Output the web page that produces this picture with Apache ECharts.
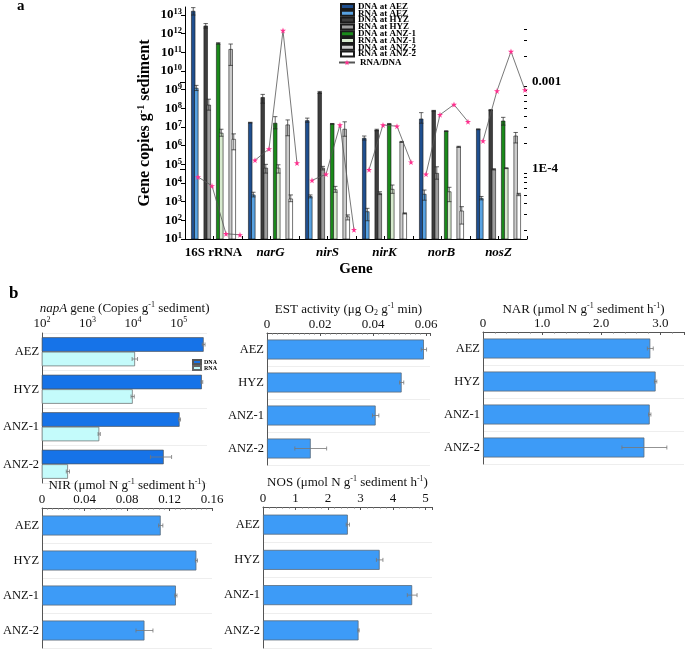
<!DOCTYPE html>
<html>
<head>
<meta charset="utf-8">
<script src="https://cdn.jsdelivr.net/npm/echarts@6/dist/echarts.min.js"></script>
<style>
html, body { margin: 0; padding: 0; background: #fff; }
#chart { width: 685px; height: 649px; }
</style>
</head>
<body>
<div id="chart"></div>
<script>
const genes = ['16S rRNA', 'narG', 'nirS', 'nirK', 'norB', 'nosZ'];
const sites = ['AEZ', 'HYZ', 'ANZ-1', 'ANZ-2'];

// gene copies per g sediment (mean, upper and lower error), one value per gene
const dnaAEZ    = [1.6e13, 1.7e7, 2.2e7, 2.5e6, 2.7e7, 7.6e6];
const dnaAEZHi  = [2.5e13, 1.8e7, 3.0e7, 3.3e6, 5.9e7, 7.9e6];
const dnaAEZLo  = [1.0e13, 1.66e7, 1.8e7, 2.0e6, 1.6e7, 7.2e6];
const rnaAEZ    = [1.2e9, 2.3e3, 1.9e3, 2.9e2, 2.5e3, 1.5e3];
const rnaAEZHi  = [1.7e9, 3.2e3, 2.3e3, 4.4e2, 4.2e3, 1.9e3];
const rnaAEZLo  = [9e8, 1.8e3, 1.6e3, 95, 1.2e3, 1.25e3];
const dnaHYZ    = [2.6e12, 3.8e8, 7.2e8, 6.9e6, 7.4e7, 8.1e7];
const dnaHYZHi  = [3.5e12, 5.6e8, 8.1e8, 7.6e6, 7.8e7, 8.7e7];
const dnaHYZLo  = [2.0e12, 1.9e8, 6.3e8, 6.3e6, 7.1e7, 7.6e7];
const rnaHYZ    = [1.5e8, 6.3e4, 6.3e4, 2.8e3, 3.3e4, 5.4e4];
const rnaHYZHi  = [3.1e8, 1.0e5, 7.8e4, 3.4e3, 7.4e4, 5.8e4];
const rnaHYZLo  = [8e7, 3.4e4, 5e4, 2.4e3, 1.6e4, 5e4];
const dnaANZ1   = [3.0e11, 1.6e7, 1.5e7, 1.45e7, 6.0e6, 2.1e7];
const dnaANZ1Hi = [3.3e11, 3.6e7, 1.55e7, 1.55e7, 6.3e6, 3.3e7];
const dnaANZ1Lo = [2.75e11, 8e6, 1.4e7, 1.35e7, 5.75e6, 1.26e7];
const rnaANZ1   = [4.7e6, 6.3e4, 4.4e3, 4.6e3, 3.4e3, 6.2e4];
const rnaANZ1Hi = [7.6e6, 9.5e4, 6.6e3, 7.8e3, 5.9e3, 6.5e4];
const rnaANZ1Lo = [3.2e6, 3.4e4, 3.2e3, 2.8e3, 1e3, 5.9e4];
const dnaANZ2   = [1.45e11, 1.3e7, 7.6e6, 1.6e6, 8.7e5, 3.3e6];
const dnaANZ2Hi = [2.8e11, 2.4e7, 1.9e7, 1.7e6, 9.3e5, 5.1e6];
const dnaANZ2Lo = [2e10, 3.4e6, 3.2e6, 1.5e6, 8.1e5, 1.4e6];
const rnaANZ2   = [2.2e6, 1.4e3, 155, 235, 316, 2.5e3];
const rnaANZ2Hi = [4.3e6, 2.3e3, 195, 250, 540, 2.8e3];
const rnaANZ2Lo = [6e5, 1e3, 105, 220, 63, 2.1e3];

// RNA/DNA ratio, one value per gene
const ratioAEZ  = [8.1e-5, 1.26e-4, 7.4e-5, 9.8e-5, 8.7e-5, 2.1e-4];
const ratioHYZ  = [6.4e-5, 1.7e-4, 8.7e-5, 3.2e-4, 4.2e-4, 7.9e-4];
const ratioANZ1 = [1.8e-5, 3.9e-3, 3.2e-4, 3.1e-4, 5.5e-4, 2.24e-3];
const ratioANZ2 = [1.75e-5, 1.17e-4, 2.0e-5, 1.2e-4, 3.5e-4, 8.1e-4];

// panel b, one value per site
const napaDNA    = [3.55e5, 3.24e5, 1.05e5, 4.7e4];
const napaDNAErr = [2.5e4, 1.5e4, 5e3, 2.3e4];
const napaRNA    = [1.1e4, 9.8e3, 1.8e3, 3.7e2];
const napaRNAErr = [1.5e3, 8e2, 1e2, 30];
const est    = [0.0592, 0.0508, 0.0410, 0.0165];
const estErr = [0.001, 0.0008, 0.0012, 0.006];
const nar    = [2.83, 2.92, 2.82, 2.73];
const narErr = [0.05, 0.02, 0.02, 0.38];
const nir    = [0.1117, 0.1453, 0.126, 0.0964];
const nirErr = [0.002, 0.001, 0.001, 0.008];
const nos    = [2.61, 3.59, 4.59, 2.94];
const nosErr = [0.05, 0.1, 0.15, 0.02];

// tick values
const copyTicks = [1e1, 1e2, 1e3, 1e4, 1e5, 1e6, 1e7, 1e8, 1e9, 1e10, 1e11, 1e12, 1e13];
const ratioTicks = [1e-4, 1e-3];
const ratioMinor = [2e-5, 3e-5, 4e-5, 5e-5, 6e-5, 7e-5, 8e-5, 9e-5,
  2e-4, 3e-4, 4e-4, 5e-4, 6e-4, 7e-4, 8e-4, 9e-4, 2e-3, 3e-3, 4e-3];
const napaTicks = [1e2, 1e3, 1e4, 1e5];
const napaMinor = [2e2, 3e2, 4e2, 5e2, 6e2, 7e2, 8e2, 9e2, 2e3, 3e3, 4e3, 5e3, 6e3, 7e3, 8e3, 9e3,
  2e4, 3e4, 4e4, 5e4, 6e4, 7e4, 8e4, 9e4, 2e5, 3e5, 4e5];

const serif = 'Liberation Serif';
const chart = echarts.init(document.getElementById('chart'));

const richBold = {
  b: { fontFamily: serif, fontWeight: 'bold', fontSize: 13, lineHeight: 15, verticalAlign: 'middle', color: '#000' },
  bi: { fontFamily: serif, fontWeight: 'bold', fontStyle: 'italic', fontSize: 13, lineHeight: 15, verticalAlign: 'middle', color: '#000' },
  s: { fontFamily: serif, fontWeight: 'bold', fontSize: 8.5, lineHeight: 8, verticalAlign: 'top', color: '#000' }
};
const richName = {
  a: { fontFamily: serif, fontWeight: 'bold', fontSize: 16, lineHeight: 18, verticalAlign: 'middle', color: '#000' },
  s: { fontFamily: serif, fontWeight: 'bold', fontSize: 10, lineHeight: 9, verticalAlign: 'top', color: '#000' }
};
const richReg = {
  n: { fontFamily: serif, fontSize: 13, lineHeight: 15, verticalAlign: 'middle', color: '#111' },
  i: { fontFamily: serif, fontStyle: 'italic', fontSize: 13, lineHeight: 15, verticalAlign: 'middle', color: '#111' },
  s: { fontFamily: serif, fontSize: 8, lineHeight: 8, verticalAlign: 'top', color: '#111' },
  sub: { fontFamily: serif, fontSize: 8, lineHeight: 8, verticalAlign: 'bottom', color: '#111' }
};

// ---- panel a bars ----
const barDefs = [
  ['DNA at AEZ', '#1f4f8f', dnaAEZ, dnaAEZHi, dnaAEZLo, 0, false],
  ['RNA at AEZ', '#58a2e2', rnaAEZ, rnaAEZHi, rnaAEZLo, 0, true],
  ['DNA at HYZ', '#3d3d3d', dnaHYZ, dnaHYZHi, dnaHYZLo, 1, false],
  ['RNA at HYZ', '#9d9d9d', rnaHYZ, rnaHYZHi, rnaHYZLo, 1, true],
  ['DNA at ANZ-1', '#1a8a1a', dnaANZ1, dnaANZ1Hi, dnaANZ1Lo, 2, false],
  ['RNA at ANZ-1', '#d7eace', rnaANZ1, rnaANZ1Hi, rnaANZ1Lo, 2, true],
  ['DNA at ANZ-2', '#cdcdcd', dnaANZ2, dnaANZ2Hi, dnaANZ2Lo, 3, false],
  ['RNA at ANZ-2', '#ffffff', rnaANZ2, rnaANZ2Hi, rnaANZ2Lo, 3, true]
];

function geneBars(def) {
  const [name, color, vals, hi, lo, s, isRna] = def;
  return {
    type: 'custom', name: name, xAxisIndex: 1, yAxisIndex: 0,
    itemStyle: { color: color, borderColor: '#1a1a1a', borderWidth: 0.6 },
    data: vals.map((v, g) => [g, v, hi[g], lo[g]]),
    encode: { x: 0, y: 1 },
    renderItem: function (params, api) {
      const cx = api.value(0) + 0.5 + (s - 1.5) * 0.219 + (isRna ? 0.027 : -0.027);
      const top = api.coord([cx, api.value(1)]);
      const hp = api.coord([cx, api.value(2)]);
      const lp = api.coord([cx, api.value(3)]);
      const base = params.coordSys.y + params.coordSys.height;
      const w = 3.6;
      const ls = { stroke: '#222', lineWidth: 0.7 };
      return {
        type: 'group', children: [
          { type: 'rect', shape: { x: top[0] - w / 2, y: top[1], width: w, height: base - top[1] },
            style: { fill: color, stroke: '#1a1a1a', lineWidth: 0.6 } },
          { type: 'line', shape: { x1: top[0], y1: hp[1], x2: top[0], y2: lp[1] }, style: ls },
          { type: 'line', shape: { x1: top[0] - 2.2, y1: hp[1], x2: top[0] + 2.2, y2: hp[1] }, style: ls },
          { type: 'line', shape: { x1: top[0] - 2.2, y1: lp[1], x2: top[0] + 2.2, y2: lp[1] }, style: ls }
        ]
      };
    }
  };
}

const star = 'path://M50,0 L61,35 L98,35 L68,57 L79,91 L50,70 L21,91 L32,57 L2,35 L39,35 Z';
const ratios = [ratioAEZ, ratioHYZ, ratioANZ1, ratioANZ2];
const ratioSeries = genes.map((gname, g) => ({
  type: 'line', name: 'RNA/DNA', xAxisIndex: 2, yAxisIndex: 1,
  data: sites.map((_, s) => [g + 0.228 + 0.2456 * s, ratios[s][g]]),
  symbol: star, symbolSize: 6,
  itemStyle: { color: '#ff2f8e' },
  lineStyle: { color: '#555', width: 0.8 },
  z: 5
}));

// ---- panel b helpers ----
function hErr(xi, yi, vals, errs, dy) {
  return {
    type: 'custom', xAxisIndex: xi, yAxisIndex: yi, silent: true, z: 4,
    data: vals.map((v, i) => [v - errs[i], v + errs[i], i]),
    encode: { x: [0, 1], y: 2 },
    renderItem: function (params, api) {
      const p1 = api.coord([api.value(0), api.value(2)]);
      const p2 = api.coord([api.value(1), api.value(2)]);
      const y = p1[1] + dy;
      const ls = { stroke: '#777', lineWidth: 0.8 };
      return {
        type: 'group', children: [
          { type: 'line', shape: { x1: p1[0], y1: y, x2: p2[0], y2: y }, style: ls },
          { type: 'line', shape: { x1: p1[0], y1: y - 2, x2: p1[0], y2: y + 2 }, style: ls },
          { type: 'line', shape: { x1: p2[0], y1: y - 2, x2: p2[0], y2: y + 2 }, style: ls }
        ]
      };
    }
  };
}

function catAxis(gi) {
  return {
    gridIndex: gi, type: 'category', data: sites, inverse: true,
    axisLine: { lineStyle: { color: '#555', width: 1 } },
    axisTick: { inside: true, length: 2, lineStyle: { color: '#555' } },
    axisLabel: { fontFamily: serif, fontSize: 12.5, color: '#111', margin: 3 },
    splitLine: { show: true, lineStyle: { color: '#e6e6e6', width: 0.7 } }
  };
}

function valAxis(gi, max, interval, minor, name, nameGap, labelFmt, showMax) {
  return {
    gridIndex: gi, type: 'value', position: 'top', min: 0, max: max, interval: interval,
    name: name, nameLocation: 'middle', nameGap: nameGap,
    nameTextStyle: { rich: richReg },
    axisLine: { show: true, lineStyle: { color: '#555', width: 1 } },
    axisTick: { show: true, inside: true, length: 3, lineStyle: { color: '#555' } },
    minorTick: { show: true, splitNumber: minor, length: 1.5, lineStyle: { color: '#777' } },
    axisLabel: { fontFamily: serif, fontSize: 13, color: '#111', margin: 2, formatter: labelFmt,
      showMaxLabel: showMax },
    splitLine: { show: false }
  };
}

const blueBar = { color: '#3d9bf7', borderColor: '#5b6b7b', borderWidth: 0.8 };

const option = {
  animation: false,
  backgroundColor: '#fff',
  graphic: [
    { type: 'text', left: 17, top: -1, style: { text: 'a', font: 'bold 15px "Liberation Serif"', fill: '#000' } },
    { type: 'text', left: 9, top: 285, style: { text: 'b', font: 'bold 17px "Liberation Serif"', fill: '#000' } }
  ],
  legend: [
    {
      data: barDefs.map(d => d[0]), orient: 'vertical', left: 335, top: -3,
      itemWidth: 13, itemHeight: 5, itemGap: -2.2, icon: 'rect', selectedMode: false,
      textStyle: { fontFamily: serif, fontWeight: 'bold', fontSize: 9, lineHeight: 7, color: '#000', padding: [0, 0, 0, -1] }
    },
    {
      data: ['RNA/DNA'], orient: 'vertical', left: 333, top: 53,
      itemWidth: 16, itemHeight: 7, selectedMode: false,
      textStyle: { fontFamily: serif, fontWeight: 'bold', fontSize: 9, color: '#000' }
    },
    {
      data: ['DNA', 'RNA'], orient: 'vertical', left: 187, top: 354,
      itemWidth: 8, itemHeight: 4, itemGap: 0, icon: 'rect', selectedMode: false,
      textStyle: { fontFamily: serif, fontWeight: 'bold', fontSize: 6, lineHeight: 5, color: '#000', padding: [0, 0, 0, -2] }
    }
  ],
  grid: [
    { left: 185, right: 158, top: 7, bottom: 410 },
    { left: 185, right: 158, top: 29, bottom: 410 },
    { left: 37, top: 333, width: 170, height: 150 },
    { left: 267, top: 333, width: 163, height: 132 },
    { left: 483, top: 332, width: 201, height: 132 },
    { left: 38, top: 508, width: 174, height: 140 },
    { left: 263, top: 507, width: 169, height: 141 }
  ],
  xAxis: [
    {
      gridIndex: 0, type: 'category', data: genes, position: 'bottom',
      axisLine: { lineStyle: { color: '#000', width: 1 } },
      axisTick: { show: false },
      axisLabel: { interval: 0, margin: 6, rich: richBold,
        formatter: (v, i) => i === 0 ? '{b|' + v + '}' : '{bi|' + v + '}' },
      name: 'Gene', nameLocation: 'middle', nameGap: 23,
      nameTextStyle: { fontFamily: serif, fontWeight: 'bold', fontSize: 15, color: '#000' }
    },
    {
      gridIndex: 0, type: 'value', position: 'bottom', min: 0, max: 6, interval: 0.5,
      axisLine: { show: false }, axisLabel: { show: false }, splitLine: { show: false },
      axisTick: { show: true, inside: true, length: 3, lineStyle: { color: '#000' } }
    },
    { gridIndex: 1, type: 'value', min: 0, max: 6, show: false },
    {
      gridIndex: 2, type: 'log', position: 'top', min: 100, max: 4.2e5,
      name: '{i|napA}{n| gene (Copies g}{s|-1}{n| sediment)}', nameLocation: 'middle', nameGap: 14,
      nameTextStyle: { rich: richReg },
      axisLine: { lineStyle: { color: '#555', width: 1 } },
      axisTick: { inside: true, length: 3, customValues: napaTicks, lineStyle: { color: '#555' } },
      axisLabel: { customValues: napaTicks, margin: 2, rich: richReg,
        formatter: v => '{n|10}{s|' + Math.round(Math.log10(v)) + '}' },
      splitLine: { show: false }
    },
    valAxis(3, 0.0615, 0.02, 10, '{n|EST activity (μg O}{sub|2}{n| g}{s|-1}{n| min)}', 14,
      v => v === 0 ? '0' : v.toFixed(2), false),
    valAxis(4, 3.4, 1, 5, '{n|NAR (μmol N g}{s|-1}{n| sediment h}{s|-1}{n|)}', 14,
      v => v === 0 ? '0' : v.toFixed(1), false),
    valAxis(5, 0.16, 0.04, 8, '{n|NIR (μmol N g}{s|-1}{n| sediment h}{s|-1}{n|)}', 13,
      v => v === 0 ? '0' : v.toFixed(2), true),
    valAxis(6, 5.2, 1, 5, '{n|NOS (μmol N g}{s|-1}{n| sediment h}{s|-1}{n|)}', 17,
      v => String(v), false),
    {
      gridIndex: 2, type: 'log', position: 'top', min: 100, max: 4.2e5,
      axisLine: { show: false }, axisLabel: { show: false }, splitLine: { show: false },
      axisTick: { inside: true, length: 1.5, customValues: napaMinor, lineStyle: { color: '#777' } }
    }
  ],
  yAxis: [
    {
      gridIndex: 0, type: 'log', position: 'left', min: 10, max: 2.7e13,
      axisLine: { show: true, lineStyle: { color: '#000', width: 1 } },
      axisTick: { show: true, length: 4, customValues: copyTicks, lineStyle: { color: '#000' } },
      axisLabel: { customValues: copyTicks, margin: 3, rich: richBold,
        formatter: v => '{b|10}{s|' + Math.round(Math.log10(v)) + '}' },
      splitLine: { show: false },
      name: '{a|Gene copies g}{s|-1}{a| sediment}', nameLocation: 'middle', nameGap: 31,
      nameTextStyle: { rich: richName }
    },
    {
      gridIndex: 1, type: 'log', position: 'right', min: 1.567e-5, max: 4.064e-3,
      axisLine: { show: true, lineStyle: { color: '#000', width: 1 } },
      axisTick: { show: true, inside: true, length: 5, customValues: ratioTicks, lineStyle: { color: '#000' } },
      axisLabel: { customValues: ratioTicks, margin: 5, fontFamily: serif, fontWeight: 'bold', fontSize: 13, color: '#000',
        formatter: v => v > 5e-4 ? '0.001' : '1E-4' },
      splitLine: { show: false }
    },
    {
      gridIndex: 1, type: 'log', position: 'right', min: 1.567e-5, max: 4.064e-3,
      axisLine: { show: false }, axisLabel: { show: false }, splitLine: { show: false },
      axisTick: { show: true, inside: true, length: 3, customValues: ratioMinor, lineStyle: { color: '#000' } }
    },
    catAxis(2), catAxis(3), catAxis(4), catAxis(5), catAxis(6)
  ],
  series: [
    ...barDefs.map(geneBars),
    ...ratioSeries,
    { type: 'bar', name: 'DNA', xAxisIndex: 3, yAxisIndex: 3, data: napaDNA, barWidth: 14.5, barGap: '0%', clip: true,
      itemStyle: { color: '#1673e8', borderColor: '#555', borderWidth: 0.7 } },
    { type: 'bar', name: 'RNA', xAxisIndex: 3, yAxisIndex: 3, data: napaRNA, barWidth: 14.5, barGap: '0%', clip: true,
      itemStyle: { color: '#c4fbfb', borderColor: '#666', borderWidth: 0.7 } },
    hErr(3, 3, napaDNA, napaDNAErr, -7.25),
    hErr(3, 3, napaRNA, napaRNAErr, 7.25),
    { type: 'bar', xAxisIndex: 4, yAxisIndex: 4, data: est, barWidth: 20, itemStyle: blueBar },
    hErr(4, 4, est, estErr, 0),
    { type: 'bar', xAxisIndex: 5, yAxisIndex: 5, data: nar, barWidth: 20, itemStyle: blueBar },
    hErr(5, 5, nar, narErr, 0),
    { type: 'bar', xAxisIndex: 6, yAxisIndex: 6, data: nir, barWidth: 20, itemStyle: blueBar },
    hErr(6, 6, nir, nirErr, 0),
    { type: 'bar', xAxisIndex: 7, yAxisIndex: 7, data: nos, barWidth: 20, itemStyle: blueBar },
    hErr(7, 7, nos, nosErr, 0)
  ]
};

chart.setOption(option);
</script>
</body>
</html>
